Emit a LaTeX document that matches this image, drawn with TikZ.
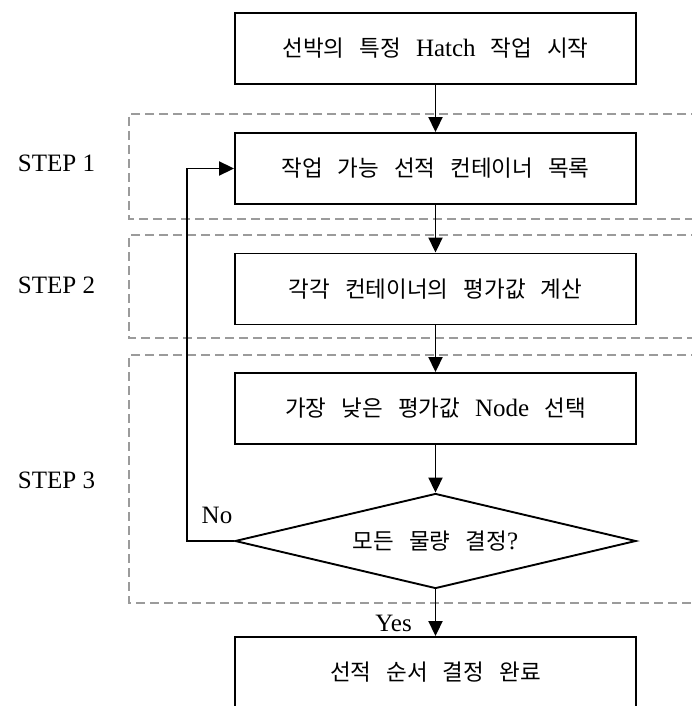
\documentclass[tikz,border=0pt]{standalone}
\usepackage{fontspec}
\setmainfont{Liberation Serif}
\newfontfamily\kr[Scale=0.9]{Noto Sans CJK KR}
\usetikzlibrary{shapes.geometric,arrows.meta}
\definecolor{stepgray}{RGB}{155,155,155}
% box text: large size with wide word gaps
\newcommand\boxfont{\fontsize{25}{29}\selectfont}
\newcommand\wide[1]{\begingroup\spaceskip=15pt plus 0pt\relax #1\endgroup}
\tikzset{
  procbox/.style={draw=black, line width=1.9pt, rectangle, minimum width=401pt,
    minimum height=71pt, inner sep=0pt, font=\boxfont},
  decbox/.style={draw=black, line width=1.9pt, diamond, aspect=4.22,
    minimum width=401pt, minimum height=95pt, inner sep=0pt, font=\boxfont},
  flow/.style={draw=black, line width=1.9pt, -{Triangle[length=15pt,width=14pt]}},
  steparea/.style={draw=stepgray, line width=1.6pt, dash pattern=on 9pt off 5pt},
  steplabel/.style={font=\fontsize{25}{29}\selectfont, inner sep=0pt},
  branch/.style={font=\fontsize{25}{29}\selectfont, inner sep=0pt}
}
\begin{document}
\begin{tikzpicture}[x=1pt, y=-1pt]
\useasboundingbox (0,0) rectangle (692,706);
\clip (0,0) rectangle (692,706);

% step areas (open to the right)
\draw[steparea] (700,114) -- (129,114) -- (129,219) -- (700,219);
\draw[steparea] (700,235) -- (129,235) -- (129,338) -- (700,338);
\draw[steparea] (700,355) -- (129,355) -- (129,603) -- (700,603);

\node[steplabel] (s1) at (56.5,163) {STEP 1};
\node[steplabel] (s2) at (56.5,285) {STEP 2};
\node[steplabel] (s3) at (56.5,480) {STEP 3};

% process chain
\node[procbox] (start) at (435.5,48.5) {\wide{{\kr 선박의 특정} Hatch {\kr 작업 시작}}};
\node[procbox] (list) at (435.5,168.5) {\wide{{\kr 작업 가능 선적 컨테이너 목록}}};
\node[procbox] (eval) at (435.5,289) {\wide{{\kr 각각 컨테이너의 평가값 계산}}};
\node[procbox] (pick) at (435.5,408.5) {\wide{{\kr 가장 낮은 평가값} Node {\kr 선택}}};
\node[decbox] (done) at (435.5,541) {\wide{{\kr 모든 물량 결정}?}};
\node[procbox] (finish) at (435.5,672.5) {\wide{{\kr 선적 순서 결정 완료}}};

\draw[flow] (start) -- (list);
\draw[flow] (list) -- (eval);
\draw[flow] (eval) -- (pick);
\draw[flow] (pick) -- (done);
\draw[flow] (done) -- (finish);

% loop back when not all quantities are decided
\coordinate (loopcorner) at (187,541);
\draw[flow] (done.west) -- (loopcorner) |- (list.west);

\node[branch] (no) at (217,515) {No};
\node[branch, anchor=east] (yes) at (412,623) {Yes};
\end{tikzpicture}
\end{document}
